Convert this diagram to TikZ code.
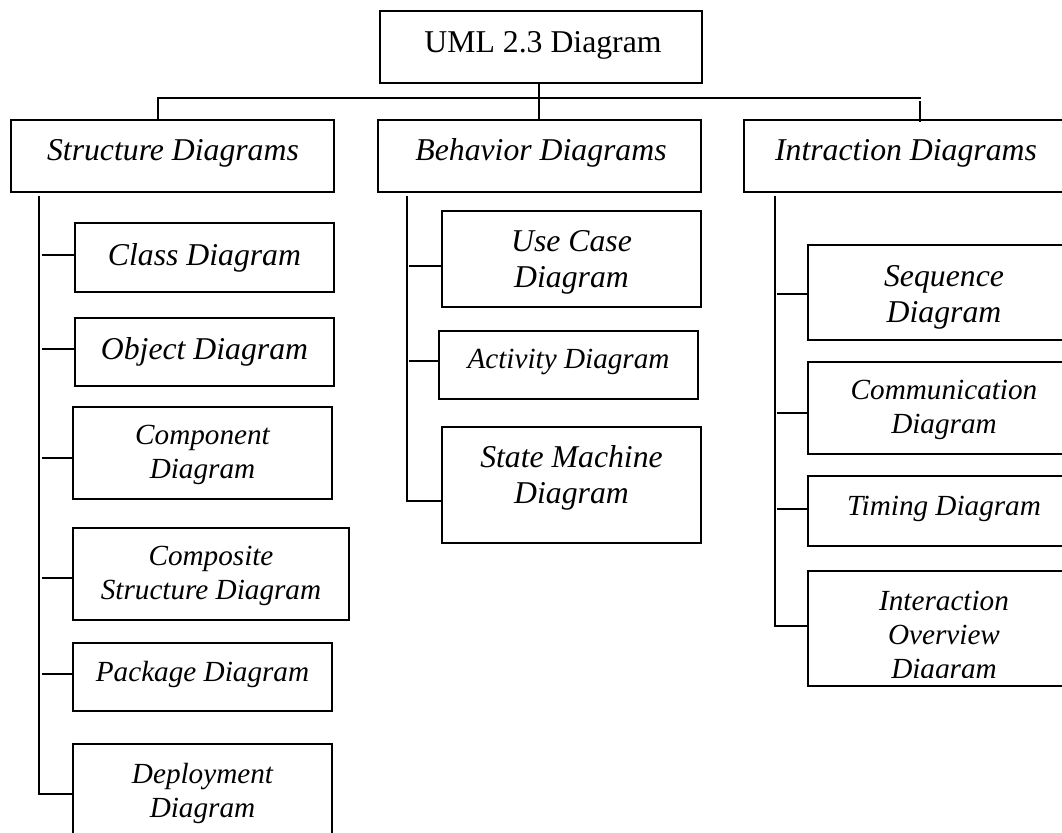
\documentclass[tikz,border=0pt]{standalone}
\usepackage{fontspec}
\setmainfont{Liberation Serif}
\usetikzlibrary{fit}
\tikzset{
  ln/.style={line width=1.3pt, line cap=rect},
  box/.style={draw, line width=1.3pt, inner sep=0pt, fit={#1}},
  big/.style={font=\fontsize{23.8}{27}\selectfont\itshape, align=center, inner sep=0pt},
  small/.style={font=\fontsize{21.9}{25.5}\selectfont\itshape, align=center, inner sep=0pt},
  upr/.style={font=\fontsize{23.8}{27}\selectfont, inner sep=0pt},
}
\begin{document}
\begin{tikzpicture}[x=0.75pt, y=-0.75pt]
\useasboundingbox (0,0) rectangle (1062,832);

% top
\node[box={(380,11) (702,83)}] (uml) {};
\node[upr] (tuml) at (543,45) {UML 2.3 Diagram};

% headers
\node[box={(11,120) (334,192)}] (struct) {};
\node[big] (tstruct) at (173,153) {Structure Diagrams};
\node[box={(378,120) (701,192)}] (behav) {};
\node[big] (tbehav) at (541,153) {Behavior Diagrams};
\node[box={(744,120) (1068,192)}] (inter) {};
\node[big] (tinter) at (906,153) {Intraction Diagrams};

% bar
\coordinate (barL) at (158,98);
\coordinate (barR) at (920,98);
\coordinate (barM) at (539,98);
\coordinate (dropR) at (920,102);
\draw[ln] (barL) -- (barR);
\draw[ln] (barL) -- (barL |- struct.north);
\draw[ln] (uml.south -| barM) -- (barM |- behav.north);
\draw[ln] (dropR) -- ([yshift=-1.5pt]dropR |- inter.north);

% structure column
\node[box={(75,223) (334,292)}] (class) {};
\node[big] (tclass) at (204.5,258) {Class Diagram};
\node[box={(75,318) (334,386)}] (object) {};
\node[big] (tobject) at (204.5,352) {Object Diagram};
\node[box={(73,407) (332,499)}] (comp) {};
\node[small] (tcomp) at (202.5,455) {Component\\Diagram};
\node[box={(73,528) (349,620)}] (csd) {};
\node[small] (tcsd) at (211,576) {Composite\\Structure Diagram};
\node[box={(73,643) (332,711)}] (pkg) {};
\node[small] (tpkg) at (202.5,674) {Package Diagram};
\node[box={(73,744) (332,842)}] (depl) {};
\node[small] (tdepl) at (202.5,793) {Deployment\\Diagram};

\coordinate (sTop) at (39,197);
\coordinate (sBot) at (39,794);
\coordinate (s1) at (43,255);
\coordinate (s2) at (43,349);
\coordinate (s3) at (43,458);
\coordinate (s4) at (43,578);
\coordinate (s5) at (43,674);
\draw[ln] (sTop) -- (sBot) -- (sBot -| depl.west);
\draw[ln] (s1) -- (s1 -| class.west);
\draw[ln] (s2) -- (s2 -| object.west);
\draw[ln] (s3) -- (s3 -| comp.west);
\draw[ln] (s4) -- (s4 -| csd.west);
\draw[ln] (s5) -- (s5 -| pkg.west);

% behavior column
\node[box={(442,211) (701,307)}] (uc) {};
\node[big] (tuc) at (571.5,262) {Use Case\\Diagram};
\node[box={(439,331) (698,399)}] (act) {};
\node[small] (tact) at (568.5,362) {Activity Diagram};
\node[box={(442,427) (701,543)}] (sm) {};
\node[big] (tsm) at (571.5,478) {State Machine\\Diagram};

\coordinate (bTop) at (407,197);
\coordinate (bBot) at (407,501);
\coordinate (b1) at (410,266);
\coordinate (b2) at (410,361);
\draw[ln] (bTop) -- (bBot) -- (bBot -| sm.west);
\draw[ln] (b1) -- (b1 -| uc.west);
\draw[ln] (b2) -- (b2 -| act.west);

% interaction column
\node[box={(808,245) (1080,340)}] (seq) {};
\node[big] (tseq) at (944,297) {Sequence\\Diagram};
\node[box={(808,362) (1080,454)}] (comm) {};
\node[small] (tcomm) at (944,410) {Communication\\Diagram};
\node[box={(808,476) (1080,546)}] (tim) {};
\node[small] (ttim) at (944,509) {Timing Diagram};
\node[box={(808,571) (1080,686)}] (iod) {};
\begin{scope}
\clip (808,560) rectangle (1080,677);
\node[small] (tiod) at (944,638) {Interaction\\Overview\\Diagram};
\end{scope}

\coordinate (iTop) at (775,197);
\coordinate (iBot) at (775,626);
\coordinate (i1) at (778,294);
\coordinate (i2) at (778,413);
\coordinate (i3) at (778,509);
\draw[ln] (iTop) -- (iBot) -- (iBot -| iod.west);
\draw[ln] (i1) -- (i1 -| seq.west);
\draw[ln] (i2) -- (i2 -| comm.west);
\draw[ln] (i3) -- (i3 -| tim.west);
\end{tikzpicture}
\end{document}
